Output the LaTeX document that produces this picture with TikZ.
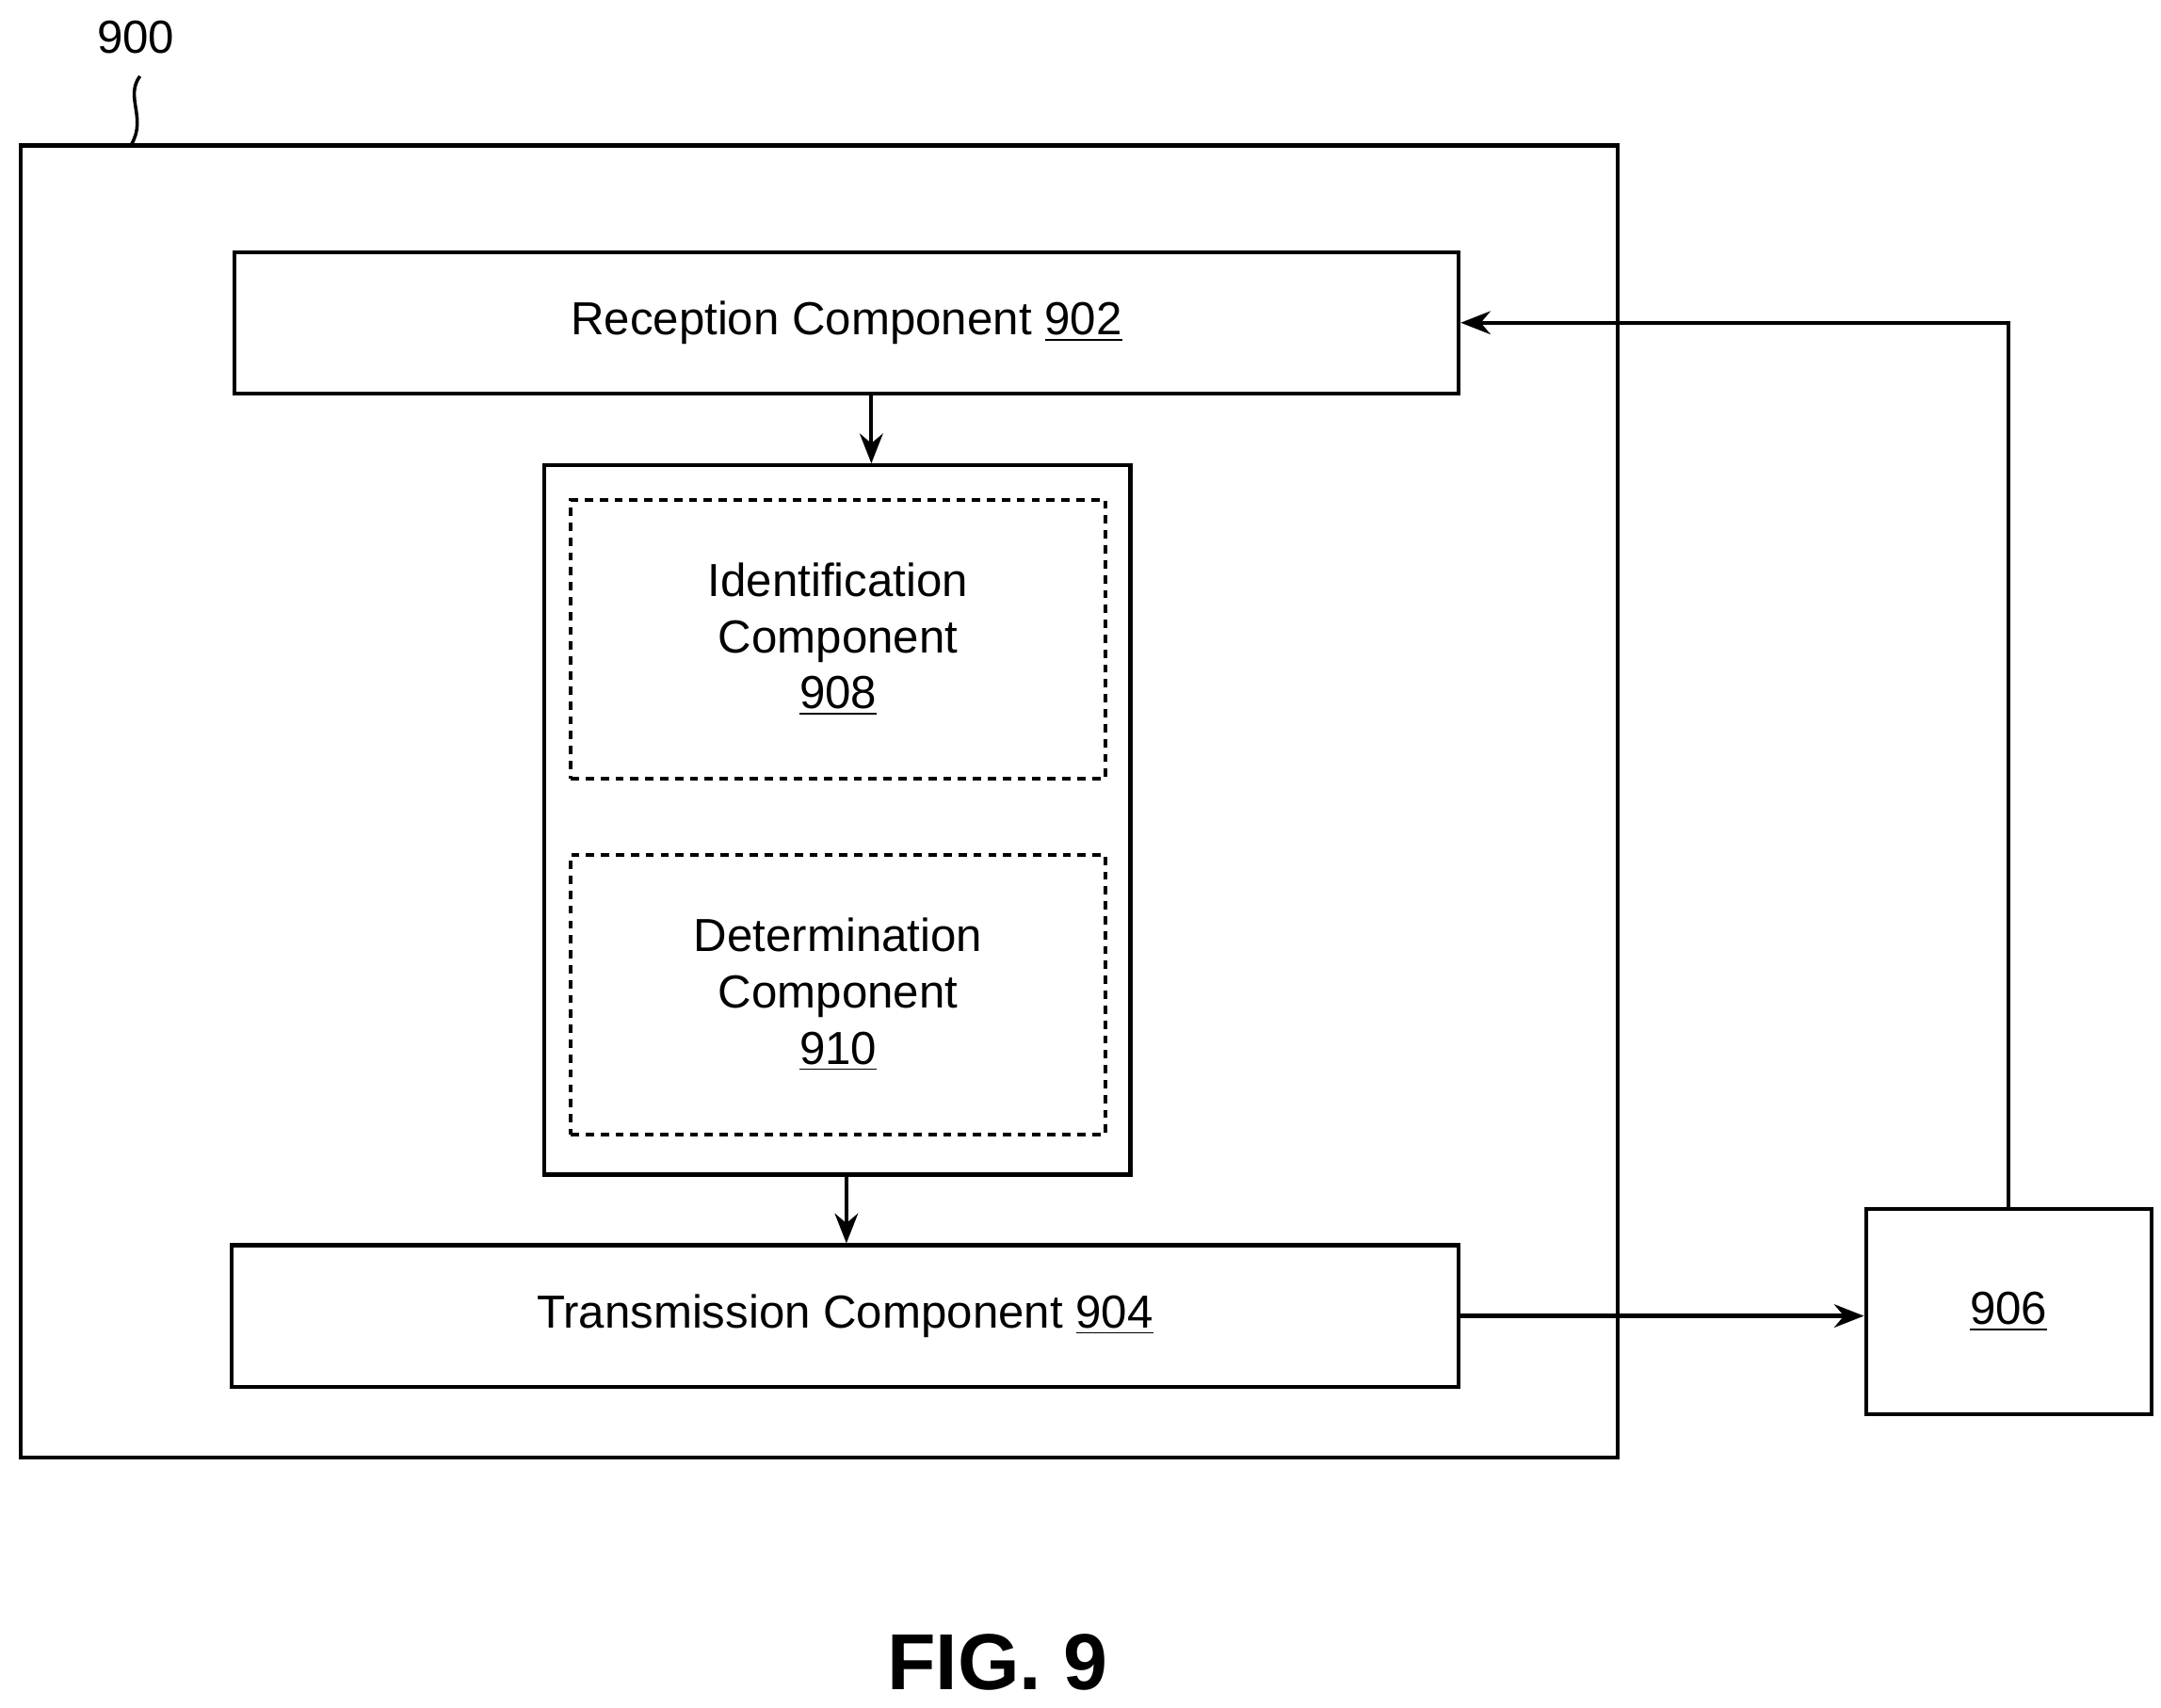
\documentclass[tikz,border=0pt]{standalone}
\usepackage{fontspec}
\setmainfont{Liberation Sans}
\usetikzlibrary{arrows.meta,positioning}

\newcommand{\px}[1]{#1*0.01471cm}

\begin{document}
\begin{tikzpicture}[x=0.01471cm,y=-0.01471cm,>={Stealth[length=9pt,width=7pt]},
	box/.style={draw,line width=1.2pt,inner sep=0pt,font=\fontsize{14pt}{17pt}\selectfont,align=center},
	sub/.style={box,dashed,dash pattern=on 2.5pt off 2pt},
	link/.style={->,line width=1.2pt}]

\useasboundingbox (0,0) rectangle (1560,1233);

% outer device
\draw[line width=1.2pt] (15,105) rectangle (1168,1052);
\node[font=\fontsize{14pt}{17pt}\selectfont] (n900) at (98,27) {900};
\draw[line width=1pt] (101,55) .. controls (90,70) and (106,85) .. (95,104);

\node[box,minimum width=\px{884},minimum height=\px{102}] (rx) at (611,233) {Reception Component \underline{902}};
\node[box,minimum width=\px{423},minimum height=\px{512}] (mid) at (604.5,592) {};
\node[sub,minimum width=\px{386},minimum height=\px{201}] (idc) at (605,461.5) {Identification\\Component\\\underline{908}};
\node[sub,minimum width=\px{386},minimum height=\px{202}] (det) at (605,718) {Determination\\Component\\\underline{910}};
\node[box,minimum width=\px{886},minimum height=\px{102}] (tx) at (610,950) {Transmission Component \underline{904}};
\node[box,minimum width=\px{206},minimum height=\px{148}] (dev) at (1450,947) {\underline{906}};

\coordinate (a1) at (629,0);
\coordinate (a2) at (611,0);
\coordinate (c1) at (1450,233);

\draw[link] (a1 |- rx.south) -- (a1 |- mid.north);
\draw[link] (a2 |- mid.south) -- (a2 |- tx.north);
\draw[link] (tx.east) -- (dev.west |- tx.east);
\draw[link] (dev.north) -- (c1) -- (rx.east);

\node[font=\bfseries\fontsize{24pt}{28pt}\selectfont] (fig) at (720,1200) {FIG. 9};

\end{tikzpicture}
\end{document}
